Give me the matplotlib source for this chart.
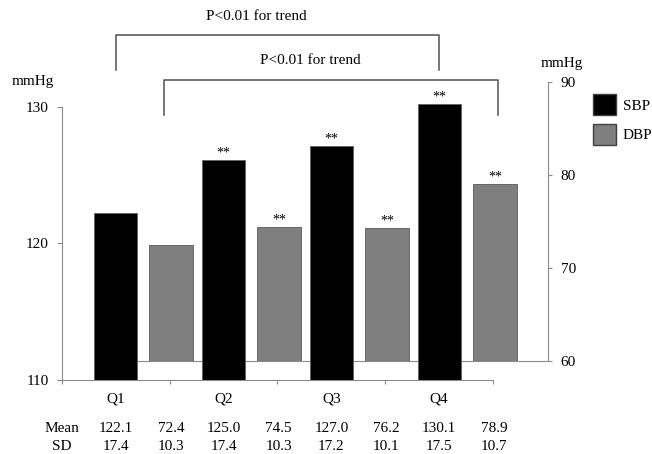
import matplotlib
matplotlib.use("Agg")
import matplotlib.pyplot as plt  # noqa: E402
from matplotlib.patches import Patch  # noqa: E402
from matplotlib.transforms import blended_transform_factory  # noqa: E402

plt.rcParams["font.family"] = ["Liberation Serif", "DejaVu Serif"]

# data
QUARTILES = ["Q1", "Q2", "Q3", "Q4"]
SBP_BARS = [122.2, 126.1, 127.1, 130.2]     # left axis, as drawn
DBP_BARS = [72.5, 74.4, 74.3, 79.0]         # right axis, as drawn
SBP_MEAN = ["122.1", "125.0", "127.0", "130.1"]
SBP_SD = ["17.4", "17.4", "17.2", "17.5"]
DBP_MEAN = ["72.4", "74.5", "76.2", "78.9"]
DBP_SD = ["10.3", "10.3", "10.1", "10.7"]
SBP_STARS = ["", "**", "**", "**"]
DBP_STARS = ["", "**", "**", "**"]
LEFT_TICKS = [110, 120, 130]
RIGHT_TICKS = [60, 70, 80, 90]
TREND_TEXT = "P<0.01 for trend"

AXIS = "#8a8a8a"
BRACKET = "#505050"
DBP_GRAY = "#7f7f7f"
FS = 11

x_sbp = list(range(len(QUARTILES)))
x_dbp = [i + 0.51 for i in x_sbp]
sbp_base, dbp_base = LEFT_TICKS[0], RIGHT_TICKS[0]

fig = plt.figure(figsize=(6.52, 4.54), dpi=100)

# right (DBP) axes drawn first so the SBP bars sit on top of its baseline
ax2 = fig.add_axes([0.0951, 0.2048, 0.7454, 0.6145])
ax2.set_xlim(-0.5, 4.0)
ax2.set_ylim(60, 90)
ax2.bar(x_dbp, [v - dbp_base for v in DBP_BARS], bottom=dbp_base, width=0.4,
        color=DBP_GRAY, edgecolor="#5a5a5a", linewidth=0.6)
for s in ("top", "left"):
    ax2.spines[s].set_visible(False)
ax2.spines["right"].set_color(AXIS)
ax2.spines["bottom"].set_color(AXIS)
ax2.spines["bottom"].set_bounds(0.2, 4.0)
ax2.yaxis.tick_right()
ax2.set_yticks(RIGHT_TICKS)
ax2.tick_params(axis="y", direction="out", length=3, color=AXIS, pad=6, labelsize=FS)
ax2.set_xticks([])
ax2.patch.set_visible(False)
for xi, v, st in zip(x_dbp, DBP_BARS, DBP_STARS):
    if st:
        ax2.annotate(st, (xi, v), textcoords="offset points", xytext=(0, 5),
                     ha="center", va="center", fontsize=10)

ax1 = fig.add_axes([0.0951, 0.163, 0.661, 0.602])
ax1.patch.set_visible(False)
ax1.set_xlim(-0.5, 3.5)
ax1.set_ylim(110, 130)
ax1.bar(x_sbp, [v - sbp_base for v in SBP_BARS], bottom=sbp_base, width=0.4,
        color="black", edgecolor="#606060", linewidth=0.6, clip_on=False)
for s in ("top", "right"):
    ax1.spines[s].set_visible(False)
ax1.spines["left"].set_color(AXIS)
ax1.spines["bottom"].set_color(AXIS)
ax1.set_yticks(LEFT_TICKS)
ax1.tick_params(axis="y", direction="out", length=3.6, color=AXIS, pad=6, labelsize=FS)
ax1.set_xticks([i - 0.5 for i in range(len(QUARTILES) + 1)])
ax1.set_xticklabels([])
ax1.set_xticks(x_sbp, minor=True)
ax1.set_xticklabels(QUARTILES, minor=True)
ax1.tick_params(axis="x", which="major", direction="out", length=3, color=AXIS)
ax1.tick_params(axis="x", which="minor", length=0, pad=9, labelsize=FS)
for xi, v, st in zip(x_sbp, SBP_BARS, SBP_STARS):
    if st:
        ax1.annotate(st, (xi, v), textcoords="offset points", xytext=(0, 5),
                     ha="center", va="center", fontsize=10, annotation_clip=False)

# axis unit labels
fig.text(33 / 652, 1 - 81 / 454, "mmHg", ha="center", va="center", fontsize=FS)
fig.text(562 / 652, 1 - 63 / 454, "mmHg", ha="center", va="center", fontsize=FS)

# trend brackets (x in data units, y in figure fraction)
trans = blended_transform_factory(ax1.transData, fig.transFigure)
brackets = [
    (x_sbp[0], x_sbp[-1], 1 - 35 / 454, 1 - 70 / 454, 1 - 16 / 454),
    (x_dbp[0] - 0.06, x_dbp[-1] + 0.04, 1 - 80 / 454, 1 - 115 / 454, 1 - 61 / 454),
]
for x0, x1, ytop, ybot, ytxt in brackets:
    ax1.plot([x0, x0, x1, x1], [ybot, ytop, ytop, ybot], color=BRACKET, linewidth=1.1,
             transform=trans, clip_on=False)
    ax1.text((x0 + x1) / 2 - 0.2, ytxt, TREND_TEXT, transform=trans, ha="center",
             va="center", fontsize=FS)

# Mean / SD table under the axis
y_mean, y_sd = 1 - 428 / 454, 1 - 447 / 454
ax1.text(-0.5, y_mean, "Mean", transform=trans, ha="center", va="center", fontsize=FS)
ax1.text(-0.5, y_sd, "SD", transform=trans, ha="center", va="center", fontsize=FS)
for xs, xd, ms, ss, md, sd in zip(x_sbp, x_dbp, SBP_MEAN, SBP_SD, DBP_MEAN, DBP_SD):
    ax1.text(xs, y_mean, ms, transform=trans, ha="center", va="center", fontsize=FS)
    ax1.text(xs, y_sd, ss, transform=trans, ha="center", va="center", fontsize=FS)
    ax1.text(xd, y_mean, md, transform=trans, ha="center", va="center", fontsize=FS)
    ax1.text(xd, y_sd, sd, transform=trans, ha="center", va="center", fontsize=FS)

handles = [Patch(facecolor="black", edgecolor="#404040", label="SBP"),
           Patch(facecolor=DBP_GRAY, edgecolor="#404040", label="DBP")]
fig.legend(handles=handles, loc="upper left", bbox_to_anchor=(593 / 652, 1 - 94 / 454),
           frameon=False, fontsize=FS, borderpad=0, borderaxespad=0,
           handlelength=1.5, handleheight=1.77, handletextpad=0.45, labelspacing=0.55)

fig.savefig("out.png", dpi=100)
